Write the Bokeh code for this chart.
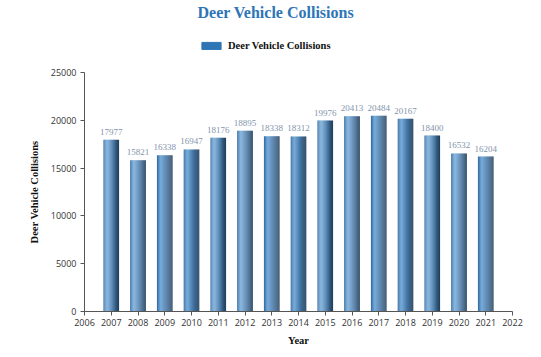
from bokeh.plotting import figure
from bokeh.layouts import column
from bokeh.models import Legend, LegendItem, Range1d, FixedTicker, ColumnDataSource, Title, LabelSet
from bokeh.transform import dodge
from bokeh.embed import file_html
from bokeh.resources import INLINE

years = [2007, 2008, 2009, 2010, 2011, 2012, 2013, 2014, 2015, 2016, 2017, 2018, 2019, 2020, 2021]
collisions = [17977, 15821, 16338, 16947, 18176, 18895, 18338, 18312, 19976, 20413, 20484, 20167, 18400, 16532, 16204]
x_ticks = list(range(2006, 2023))
y_ticks = [0, 5000, 10000, 15000, 20000, 25000]
series_name = "Deer Vehicle Collisions"

# ---- header figure: title + legend ----
top = figure(width=541, height=64, output_backend="svg", toolbar_location=None,
             x_range=Range1d(0, 1), y_range=Range1d(0, 1),
             x_axis_location=None, y_axis_location=None,
             min_border_left=0, min_border_right=0, min_border_top=0, min_border_bottom=0)
top.grid.visible = False
top.outline_line_color = None
dummy = top.rect(x=[-5], y=[-5], width=1, height=1, fill_color="#2e75b6", line_color="#2e75b6")
legend = Legend(items=[LegendItem(label=series_name, renderers=[dummy])], orientation="horizontal",
                location=(115, 13), label_text_font="Liberation Serif", label_text_font_style="bold",
                label_text_font_size="10.5px", label_text_color="#111111", glyph_width=24, glyph_height=9,
                border_line_color=None, background_fill_alpha=0, margin=0, padding=2, label_standoff=5)
top.add_layout(legend)
t = Title(text=series_name, align="left", offset=113, text_font="Liberation Serif", text_font_style="bold",
          text_font_size="16px", text_color="#2e75b6", standoff=2)
top.add_layout(t, "above")

# ---- main chart ----
src = ColumnDataSource(dict(x=years, top=collisions, lbl=[str(v) for v in collisions]))

p = figure(width=541, height=293, output_backend="svg", toolbar_location=None,
           x_range=Range1d(2006, 2022), y_range=Range1d(0, 25000),
           min_border_left=84, min_border_right=29, min_border_top=8, min_border_bottom=46)
p.outline_line_color = None
p.grid.visible = False
p.background_fill_color = "white"

# cylinder-like shading with thin strips
bw = 0.58
strip_colors = ["#3d70a2", "#4f86bb", "#6399cc", "#70a7d6", "#6ea4d3", "#6599ca", "#5c8fc0",
                "#5386b6", "#4a7cab", "#43729f", "#3c6893", "#355e87", "#2f557a", "#294c6d", "#234260"]
n = len(strip_colors)
sw = bw / n
for i, c in enumerate(strip_colors):
    off = -bw / 2 + sw * (i + 0.5)
    p.vbar(x=dodge("x", off), top="top", width=sw * 1.15, source=src, fill_color=c, line_color=None)

labels = LabelSet(x="x", y="top", text="lbl", source=src, text_align="center", y_offset=5,
                  text_font_size="9px", text_color="#8394ab", text_font="Open Sans")
p.add_layout(labels)

p.xaxis.ticker = FixedTicker(ticks=x_ticks)
p.yaxis.ticker = FixedTicker(ticks=y_ticks)
p.xaxis.minor_tick_line_color = None
p.yaxis.minor_tick_line_color = None
for ax in (p.xaxis, p.yaxis):
    ax.axis_line_color = "#555555"
    ax.major_tick_line_color = "#555555"
    ax.major_tick_out = 4
    ax.major_tick_in = 0
    ax.major_label_text_font = "Open Sans"
    ax.major_label_text_font_size = "9px"
    ax.major_label_text_color = "#333333"
    ax.axis_label_text_font = "Liberation Serif"
    ax.axis_label_text_font_style = "bold"
    ax.axis_label_text_font_size = "10.5px"
    ax.axis_label_text_color = "#111111"
p.xaxis.axis_label = "Year"
p.yaxis.axis_label = "Deer Vehicle Collisions"
p.xaxis.axis_label_standoff = 6
p.yaxis.axis_label_standoff = 8
p.xaxis.major_label_standoff = 3
p.yaxis.major_label_standoff = 4

open("out.html", "w").write(file_html(column(top, p, spacing=0), INLINE))
